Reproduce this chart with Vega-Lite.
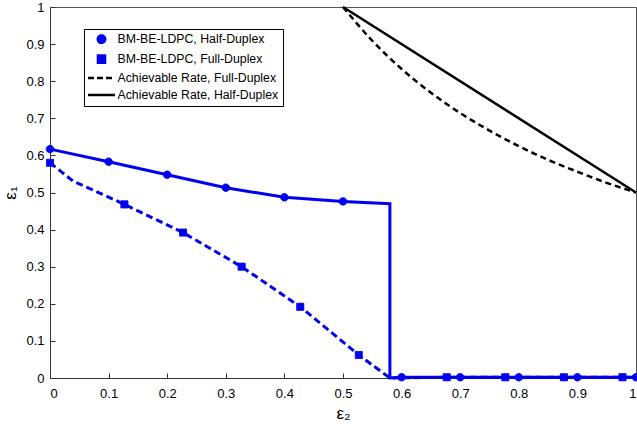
{
  "$schema": "https://vega.github.io/schema/vega-lite/v6.json",
  "width": 586,
  "height": 371,
  "autosize": "none",
  "padding": {"left": 50, "top": 7, "right": 1, "bottom": 50},
  "background": "white",
  "config": {
    "view": {"stroke": "#555", "strokeWidth": 1},
    "font": "Liberation Sans",
    "axis": {
      "grid": false,
      "domainColor": "#333",
      "tickColor": "#333",
      "tickSize": -5,
      "labelFont": "Liberation Sans",
      "labelFontSize": 13,
      "labelColor": "black",
      "titleFont": "Liberation Sans",
      "titleFontWeight": "normal",
      "titleFontSize": 17,
      "titleColor": "black"
    }
  },
  "datasets": {
    "hdLine": [
      {"x": 0, "y": 0.617, "i": 1},
      {"x": 0.1, "y": 0.583, "i": 2},
      {"x": 0.2, "y": 0.548, "i": 3},
      {"x": 0.3, "y": 0.513, "i": 4},
      {"x": 0.4, "y": 0.487, "i": 5},
      {"x": 0.5, "y": 0.476, "i": 6},
      {"x": 0.58, "y": 0.470, "i": 7},
      {"x": 0.58, "y": 0.0, "i": 8},
      {"x": 0.6, "y": 0.002, "i": 9},
      {"x": 0.7, "y": 0.002, "i": 10},
      {"x": 0.8, "y": 0.002, "i": 11},
      {"x": 0.9, "y": 0.002, "i": 12},
      {"x": 1.0, "y": 0.002, "i": 13}
    ],
    "fdLine": [
      {"x": 0, "y": 0.58},
      {"x": 0.02, "y": 0.555},
      {"x": 0.04, "y": 0.53},
      {"x": 0.08, "y": 0.502},
      {"x": 0.127, "y": 0.468},
      {"x": 0.227, "y": 0.392},
      {"x": 0.327, "y": 0.30},
      {"x": 0.427, "y": 0.192},
      {"x": 0.527, "y": 0.062},
      {"x": 0.58, "y": 0.0},
      {"x": 0.677, "y": 0.002},
      {"x": 0.777, "y": 0.002},
      {"x": 0.877, "y": 0.002},
      {"x": 0.977, "y": 0.002},
      {"x": 1.0, "y": 0.002}
    ],
    "hdRate": [
      {"x": 0.5, "y": 1.0},
      {"x": 1.0, "y": 0.5}
    ],
    "fdRate": [
      {"x": 0.5, "y": 1.0},
      {"x": 0.55, "y": 0.909},
      {"x": 0.6, "y": 0.833},
      {"x": 0.65, "y": 0.769},
      {"x": 0.7, "y": 0.714},
      {"x": 0.75, "y": 0.667},
      {"x": 0.8, "y": 0.625},
      {"x": 0.85, "y": 0.588},
      {"x": 0.9, "y": 0.556},
      {"x": 0.95, "y": 0.526},
      {"x": 1.0, "y": 0.5}
    ],
    "markers": [
      {"series": "BM-BE-LDPC, Half-Duplex", "x": 0, "y": 0.617},
      {"series": "BM-BE-LDPC, Half-Duplex", "x": 0.1, "y": 0.583},
      {"series": "BM-BE-LDPC, Half-Duplex", "x": 0.2, "y": 0.548},
      {"series": "BM-BE-LDPC, Half-Duplex", "x": 0.3, "y": 0.513},
      {"series": "BM-BE-LDPC, Half-Duplex", "x": 0.4, "y": 0.487},
      {"series": "BM-BE-LDPC, Half-Duplex", "x": 0.5, "y": 0.476},
      {"series": "BM-BE-LDPC, Half-Duplex", "x": 0.6, "y": 0.002},
      {"series": "BM-BE-LDPC, Half-Duplex", "x": 0.7, "y": 0.002},
      {"series": "BM-BE-LDPC, Half-Duplex", "x": 0.8, "y": 0.002},
      {"series": "BM-BE-LDPC, Half-Duplex", "x": 0.9, "y": 0.002},
      {"series": "BM-BE-LDPC, Half-Duplex", "x": 1.0, "y": 0.002},
      {"series": "BM-BE-LDPC, Full-Duplex", "x": 0, "y": 0.58},
      {"series": "BM-BE-LDPC, Full-Duplex", "x": 0.127, "y": 0.468},
      {"series": "BM-BE-LDPC, Full-Duplex", "x": 0.227, "y": 0.392},
      {"series": "BM-BE-LDPC, Full-Duplex", "x": 0.327, "y": 0.30},
      {"series": "BM-BE-LDPC, Full-Duplex", "x": 0.427, "y": 0.192},
      {"series": "BM-BE-LDPC, Full-Duplex", "x": 0.527, "y": 0.062},
      {"series": "BM-BE-LDPC, Full-Duplex", "x": 0.677, "y": 0.002},
      {"series": "BM-BE-LDPC, Full-Duplex", "x": 0.777, "y": 0.002},
      {"series": "BM-BE-LDPC, Full-Duplex", "x": 0.877, "y": 0.002},
      {"series": "BM-BE-LDPC, Full-Duplex", "x": 0.977, "y": 0.002}
    ]
  },
  "encoding": {
    "x": {
      "field": "x", "type": "quantitative",
      "scale": {"domain": [0, 1], "nice": false},
      "axis": {"values": [0, 0.1, 0.2, 0.3, 0.4, 0.5, 0.6, 0.7, 0.8, 0.9, 1], "format": "~g", "title": "ε₂", "labelPadding": 14, "titlePadding": 5}
    },
    "y": {
      "field": "y", "type": "quantitative",
      "scale": {"domain": [0, 1], "nice": false},
      "axis": {"values": [0, 0.1, 0.2, 0.3, 0.4, 0.5, 0.6, 0.7, 0.8, 0.9, 1], "format": "~g", "title": "ε₁", "labelPadding": 11, "titlePadding": 6}
    }
  },
  "layer": [
    {
      "data": {"name": "fdRate"},
      "mark": {"type": "line", "color": "black", "strokeWidth": 2.5, "strokeDash": [6, 4], "interpolate": "monotone"}
    },
    {
      "data": {"name": "hdRate"},
      "mark": {"type": "line", "color": "black", "strokeWidth": 2.5}
    },
    {
      "data": {"name": "fdLine"},
      "mark": {"type": "line", "color": "#0000ee", "strokeWidth": 3, "strokeDash": [7, 4]}
    },
    {
      "data": {"name": "hdLine"},
      "mark": {"type": "line", "color": "#0000ee", "strokeWidth": 3},
      "encoding": {"order": {"field": "i", "type": "quantitative"}}
    },
    {
      "data": {"name": "markers"},
      "mark": {"type": "point", "filled": true, "strokeWidth": 1, "opacity": 1},
      "encoding": {
        "fill": {
          "field": "series", "type": "nominal",
          "scale": {"domain": ["BM-BE-LDPC, Half-Duplex", "BM-BE-LDPC, Full-Duplex", "Achievable Rate, Full-Duplex", "Achievable Rate, Half-Duplex"], "range": ["#0000ee", "#0000ee", "transparent", "transparent"]},
          "legend": {
            "title": null,
            "orient": "none",
            "legendX": 34,
            "legendY": 22,
            "strokeColor": "black",
            "fillColor": "white",
            "padding": 4,
            "labelFont": "Liberation Sans",
            "labelFontSize": 12.3,
            "labelColor": "black",
            "labelLimit": 400,
            "labelOffset": 8,
            "symbolOffset": 5.5,
            "rowPadding": 2,
            "symbolStrokeWidth": 2.5
          }
        },
        "stroke": {
          "field": "series", "type": "nominal",
          "scale": {"domain": ["BM-BE-LDPC, Half-Duplex", "BM-BE-LDPC, Full-Duplex", "Achievable Rate, Full-Duplex", "Achievable Rate, Half-Duplex"], "range": ["#0000ee", "#0000ee", "black", "black"]}
        },
        "size": {
          "field": "series", "type": "nominal",
          "scale": {"type": "ordinal", "domain": ["BM-BE-LDPC, Half-Duplex", "BM-BE-LDPC, Full-Duplex", "Achievable Rate, Full-Duplex", "Achievable Rate, Half-Duplex"], "range": [55, 50, 182, 182]}
        },
        "shape": {
          "field": "series", "type": "nominal",
          "scale": {"domain": ["BM-BE-LDPC, Half-Duplex", "BM-BE-LDPC, Full-Duplex", "Achievable Rate, Full-Duplex", "Achievable Rate, Half-Duplex"], "range": ["circle", "square", "M-2,0L2,0", "M-2,0L2,0"]}
        },
        "strokeDash": {
          "field": "series", "type": "nominal",
          "scale": {"domain": ["BM-BE-LDPC, Half-Duplex", "BM-BE-LDPC, Full-Duplex", "Achievable Rate, Full-Duplex", "Achievable Rate, Half-Duplex"], "range": [[1, 0], [1, 0], [6, 3], [1, 0]]}
        }
      }
    }
  ]
}
